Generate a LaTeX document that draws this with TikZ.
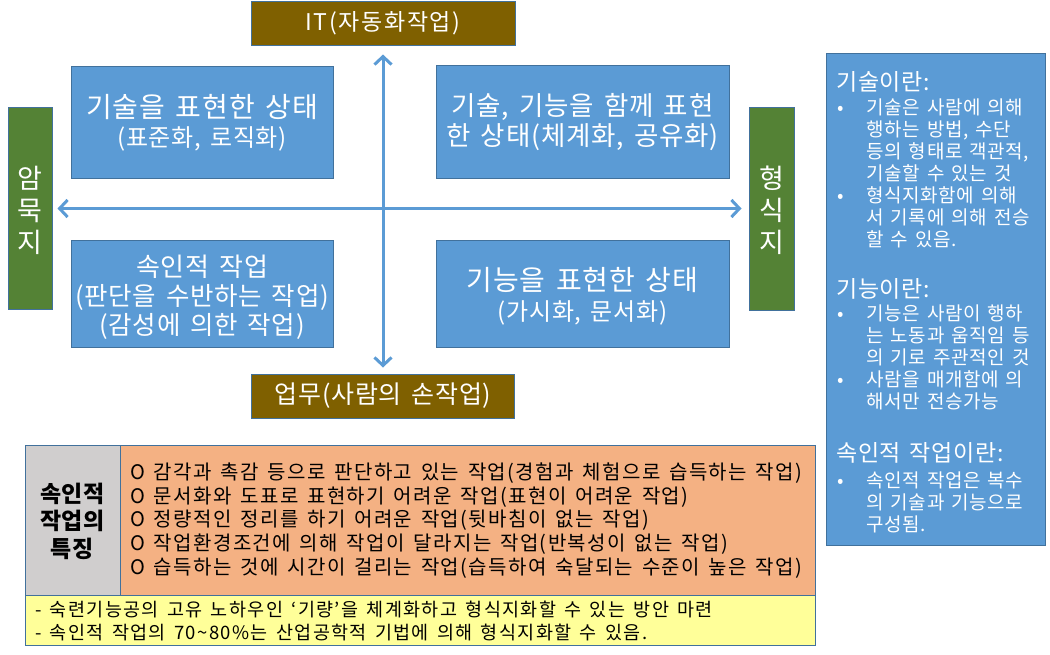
\documentclass[tikz,border=0pt]{standalone}
\usepackage{fontspec}
\setmainfont{Noto Sans CJK KR}[WordSpace=1.5,LetterSpace=3]
\usetikzlibrary{arrows.meta}
\definecolor{bl}{HTML}{5B9BD5}
\definecolor{bord}{HTML}{41719C}
\definecolor{brn}{HTML}{7F6000}
\definecolor{grn}{HTML}{548235}
\definecolor{gry}{HTML}{D0CECE}
\definecolor{org}{HTML}{F4B183}
\definecolor{ylw}{HTML}{FFFF99}
\newcommand\fs[2]{\fontsize{#1}{#2}\selectfont}
\newcommand\ls[1]{\addfontfeature{LetterSpace=#1}}
\newcommand\bul{\makebox[29pt][l]{•}}
\newcommand\ind{\hspace*{29pt}}
\begin{document}
\begin{tikzpicture}[x=1pt,y=-1pt,
  bx/.style={draw=bord, line width=1pt, inner sep=0pt},
  bluebox/.style={bx, fill=bl},
  brownbox/.style={bx, fill=brn, text=white, align=center},
  greenbox/.style={bx, fill=grn},
  wtxt/.style={inner sep=0pt, align=center, text=white},
  ktxt/.style={inner sep=0pt, align=left, text=black},
  ptxt/.style={inner sep=0pt, align=left, text=white, anchor=west},
  arr/.style={draw=bl, line width=3pt, {Straight Barb[length=8pt,width=17pt]}-{Straight Barb[length=8pt,width=17pt]}}
]
\useasboundingbox (0,0) rectangle (1050,654);

% top / bottom brown boxes
\node[brownbox, minimum width=264pt, minimum height=44pt, font=\fs{23}{28}\ls{7}] (it) at (383,23) {IT(자동화작업)};
\node[brownbox, minimum width=263pt, minimum height=44pt, font=\fs{25}{28}] (hand) at (383,396) {업무(사람의 손작업)};

% green side boxes
\node[greenbox, minimum width=44pt, minimum height=202pt] (gl) at (30,208.5) {};
\node[wtxt, font=\fs{27}{32}] (glt) at (30,210) {암\\묵\\지};
\node[greenbox, minimum width=45pt, minimum height=203pt] (gr) at (771.5,208.5) {};
\node[wtxt, font=\fs{27}{32}] (grt) at (771.5,210) {형\\식\\지};

% quadrant boxes
\node[bluebox, minimum width=262pt, minimum height=112pt] (tl) at (202,122) {};
\node[wtxt, font=\fs{28}{29}] (tlt) at ([yshift=-1pt]tl.center) {기술을 표현한 상태\\{\fs{24}{29}(표준화, 로직화)}};
\node[bluebox, minimum width=293pt, minimum height=113pt] (tr) at (582.5,121.5) {};
\node[wtxt, font=\fs{26.5}{30}] (trt) at ([yshift=-1pt]tr.center) {기술, 기능을 함께 표현\\한 상태(체계화, 공유화)};
\node[bluebox, minimum width=262pt, minimum height=107pt] (bl) at (202,293.5) {};
\node[wtxt, font=\fs{25.5}{29}] (blt) at ([yshift=-4pt]bl.center) {{\fs{26}{29}속인적 작업}\\(판단을 수반하는 작업)\\(감성에 의한 작업)};
\node[bluebox, minimum width=293pt, minimum height=107pt] (br) at (582.5,293.5) {};
\node[wtxt, font=\fs{28}{30}] (brt) at ([yshift=-3pt]br.center) {기능을 표현한 상태\\{\fs{24}{30}(가시화, 문서화)}};

% axes
\draw[arr, shorten <=9pt, shorten >=6pt] (it.south) -- (hand.north);
\draw[arr, shorten <=5pt, shorten >=7pt] (gl.east) -- (gr.west);

% right panel
\node[bluebox, minimum width=219pt, minimum height=492pt] (rp) at (935.5,299) {};
\node[ptxt, font=\fs{23}{26}] (h1) at (836,82) {기술이란:};
\node[ptxt, font=\fs{19}{22}] (b1) at (837,173) {\bul 기술은 사람에 의해\\\ind 행하는 방법, 수단\\\ind 등의 형태로 객관적,\\\ind 기술할 수 있는 것\\\bul 형식지화함에 의해\\\ind 서 기록에 의해 전승\\\ind 할 수 있음.};
\node[ptxt, font=\fs{23}{26}] (h2) at (836,289) {기능이란:};
\node[ptxt, font=\fs{19}{22}] (b2) at (837,357) {\bul 기능은 사람이 행하\\\ind 는 노동과 움직임 등\\\ind 의 기로 주관적인 것\\\bul 사람을 매개함에 의\\\ind 해서만 전승가능};
\node[ptxt, font=\fs{23}{26}] (h3) at (836,453) {속인적 작업이란:};
\node[ptxt, font=\fs{19}{22}] (b3) at (837,502) {\bul 속인적 작업은 복수\\\ind 의 기술과 기능으로\\\ind 구성됨.};

% bottom table
\node[bx, fill=gry, minimum width=95pt, minimum height=150pt] (gc) at (72.5,520) {};
\node[bx, fill=org, minimum width=695pt, minimum height=150pt] (oc) at (467.5,520) {};
\node[bx, fill=ylw, minimum width=790pt, minimum height=50pt] (yc) at (420,620) {};
\node[inner sep=0pt, align=center, font=\fs{23}{27.5}\bfseries] (gct) at (72.5,521) {속인적\\작업의\\특징};
\node[ktxt, anchor=west, font=\fs{20}{23.8}\ls{7}] (oct) at (130,520.5) {O 감각과 촉감 등으로 판단하고 있는 작업(경험과 체험으로 습득하는 작업)\\O 문서화와 도표로 표현하기 어려운 작업(표현이 어려운 작업)\\O 정량적인 정리를 하기 어려운 작업(뒷바침이 없는 작업)\\O 작업환경조건에 의해 작업이 달라지는 작업(반복성이 없는 작업)\\O 습득하는 것에 시간이 걸리는 작업(습득하여 숙달되는 수준이 높은 작업)};
\node[ktxt, anchor=west, font=\fs{18.5}{23}\ls{7.5}] (yct) at (35,621) {- 숙련기능공의 고유 노하우인 ‘기량’을 체계화하고 형식지화할 수 있는 방안 마련\\- 속인적 작업의 70\textasciitilde 80\%는 산업공학적 기법에 의해 형식지화할 수 있음.};
\end{tikzpicture}
\end{document}
